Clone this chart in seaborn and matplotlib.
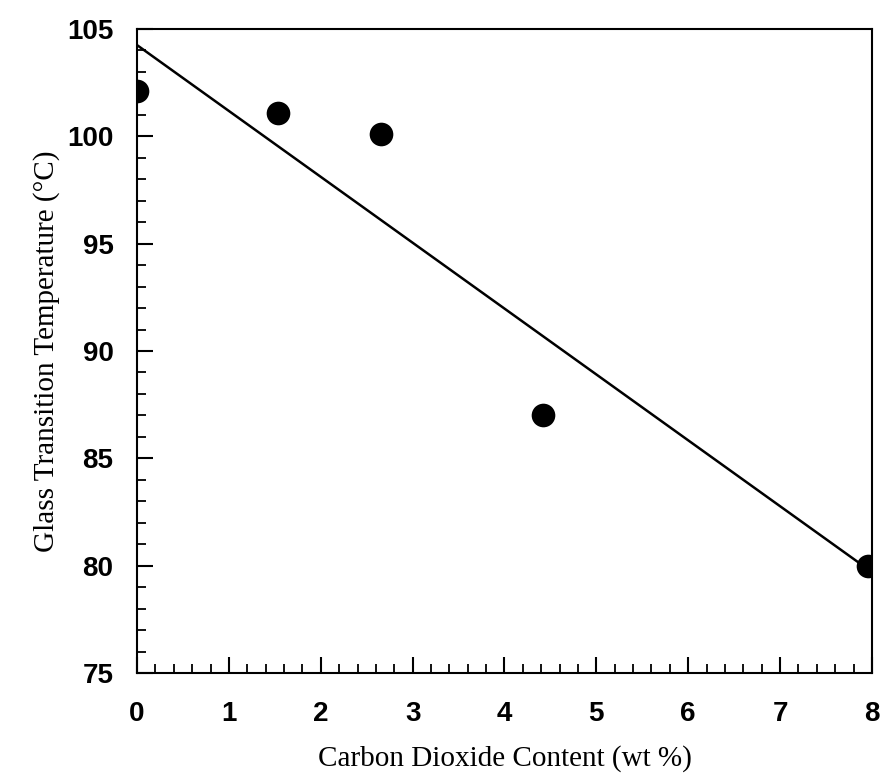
import matplotlib
matplotlib.use('Agg')
import matplotlib.pyplot as plt
import pandas as pd
import seaborn as sns
from matplotlib.ticker import MultipleLocator

# data
co2_content = [0.0, 1.54, 2.66, 4.42, 7.96]
glass_temp = [102.1, 101.1, 100.1, 87.0, 80.0]
# linear fit line, endpoints
fit_x = [0.0, 8.0]
fit_y = [104.25, 79.7]

df = pd.DataFrame({'co2': co2_content, 'tg': glass_temp})
fit = pd.DataFrame({'co2': fit_x, 'tg': fit_y})

sns.set_style('ticks')
plt.rcParams['font.family'] = ['Liberation Sans', 'DejaVu Sans']

fig = plt.figure(figsize=(8.84, 7.75), dpi=100)
ax = fig.add_axes([0.155, 0.1316, 0.8314, 0.831])

sns.lineplot(data=fit, x='co2', y='tg', color='black', linewidth=1.8, ax=ax)
sns.scatterplot(data=df, x='co2', y='tg', color='black', s=290, edgecolor='black',
                linewidth=0, zorder=3, ax=ax)

ax.set_xlim(0, 8)
ax.set_ylim(75, 105)
ax.xaxis.set_major_locator(MultipleLocator(1))
ax.xaxis.set_minor_locator(MultipleLocator(0.2))
ax.yaxis.set_major_locator(MultipleLocator(5))
ax.yaxis.set_minor_locator(MultipleLocator(1))

for s in ax.spines.values():
    s.set_visible(True)
    s.set_linewidth(1.5)
    s.set_color('black')

ax.tick_params(axis='both', which='both', direction='in', top=False, right=False,
               color='black', labelcolor='black')
ax.tick_params(axis='both', which='major', length=11.5, width=1.5, labelsize=20)
ax.tick_params(axis='both', which='minor', length=6.5, width=1.3)
ax.tick_params(axis='x', which='major', pad=20)
ax.tick_params(axis='y', which='major', pad=17)
for lab in ax.get_xticklabels() + ax.get_yticklabels():
    lab.set_fontweight('bold')

ax.set_xlabel('Carbon Dioxide Content (wt %)', family=['Liberation Serif', 'DejaVu Serif'],
              fontsize=21, labelpad=13, color='black')
ax.set_ylabel('Glass Transition Temperature (°C)', family=['Liberation Serif', 'DejaVu Serif'],
              fontsize=21, labelpad=5, color='black')

fig.savefig('out.png', dpi=100)
